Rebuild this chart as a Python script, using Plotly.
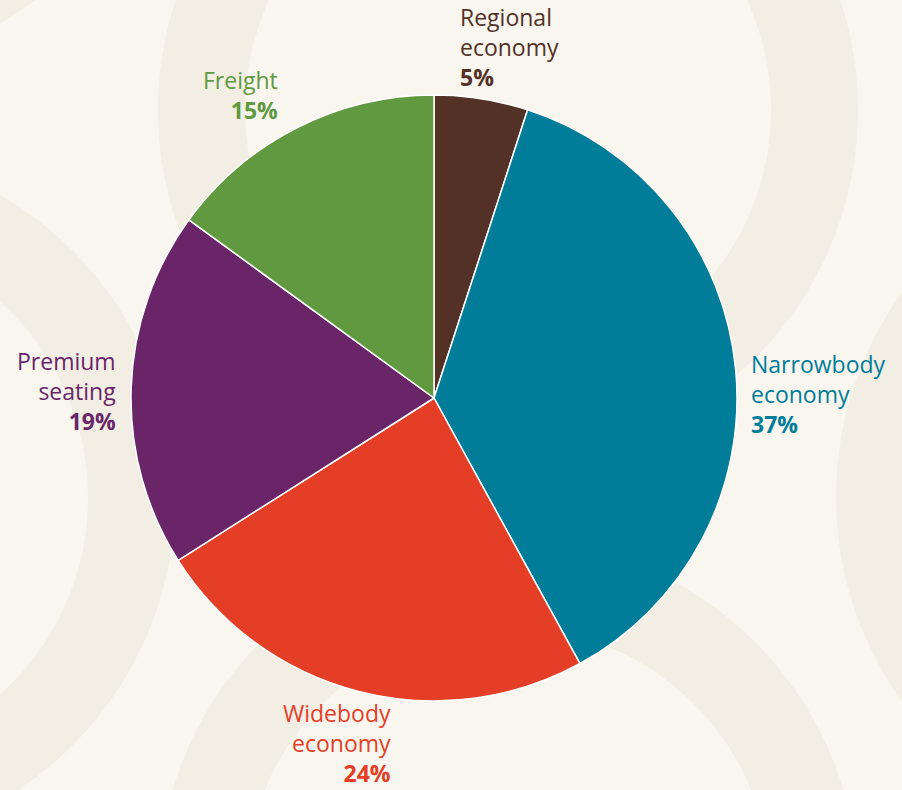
import plotly.graph_objects as go

# ---- data ----
labels = ["Regional economy", "Narrowbody economy", "Widebody economy", "Premium seating", "Freight"]
values = [5, 37, 24, 19, 15]
label_lines = [["Regional", "economy"], ["Narrowbody", "economy"], ["Widebody", "economy"],
               ["Premium", "seating"], ["Freight"]]
colors = ["#533127", "#017d99", "#e53e26", "#6a2569", "#619941"]

# ---- layout geometry (pixels) ----
W, H = 902, 790
PIE_CX, PIE_CY, PIE_R = 434, 398, 303
label_anchor = [  # (x px, first baseline px, align)
    (458, 29, "left"),
    (749, 376, "left"),
    (393, 725, "right"),
    (118, 373, "right"),
    (280, 91, "right"),
]
REF_PITCH = 28.3
FONT = "Open Sans"
FONT_SIZE = 23

BG = "#f8f6ef"
RING = "#f2eee3"
ring_centers = [(508, 110), (508, 890), (-175, 498), (1186, 497), (-175, -280)]
RING_MID, RING_W = 306.5, 87


def px(x):
    return x / W


def py(y):
    return 1 - y / H


fig = go.Figure()
fig.add_trace(go.Pie(
    labels=labels, values=values, sort=False, direction="clockwise", rotation=0,
    marker=dict(colors=colors, line=dict(color="white", width=1.5)),
    textinfo="none", hoverinfo="label+percent", showlegend=False,
    domain=dict(x=[px(PIE_CX - PIE_R), px(PIE_CX + PIE_R)],
                y=[py(PIE_CY + PIE_R), py(PIE_CY - PIE_R)]),
))

shapes = []
for cx, cy in ring_centers:
    shapes.append(dict(type="circle", xref="paper", yref="paper", layer="below",
                       x0=px(cx - RING_MID), x1=px(cx + RING_MID),
                       y0=py(cy + RING_MID), y1=py(cy - RING_MID),
                       line=dict(color=RING, width=RING_W), fillcolor="rgba(0,0,0,0)"))

annotations = []
for lines, v, col, (ax, b0, al) in zip(label_lines, values, colors, label_anchor):
    texts = list(lines) + [f"<b>{v}%</b>"]
    n = len(texts)
    mean_base = b0 + REF_PITCH * (n - 1) / 2
    annotations.append(dict(
        text="<br>".join(texts), x=px(ax), y=py(mean_base - 9.9), xref="paper", yref="paper",
        xanchor=al, yanchor="middle", showarrow=False, align=al,
        font=dict(family=FONT, size=FONT_SIZE, color=col)))

fig.update_layout(
    width=W, height=H, margin=dict(l=0, r=0, t=0, b=0),
    paper_bgcolor=BG, plot_bgcolor=BG,
    shapes=shapes, annotations=annotations,
)
fig.write_html("out.html", config={"displayModeBar": False},
               post_script="document.body.style.margin='0';")
